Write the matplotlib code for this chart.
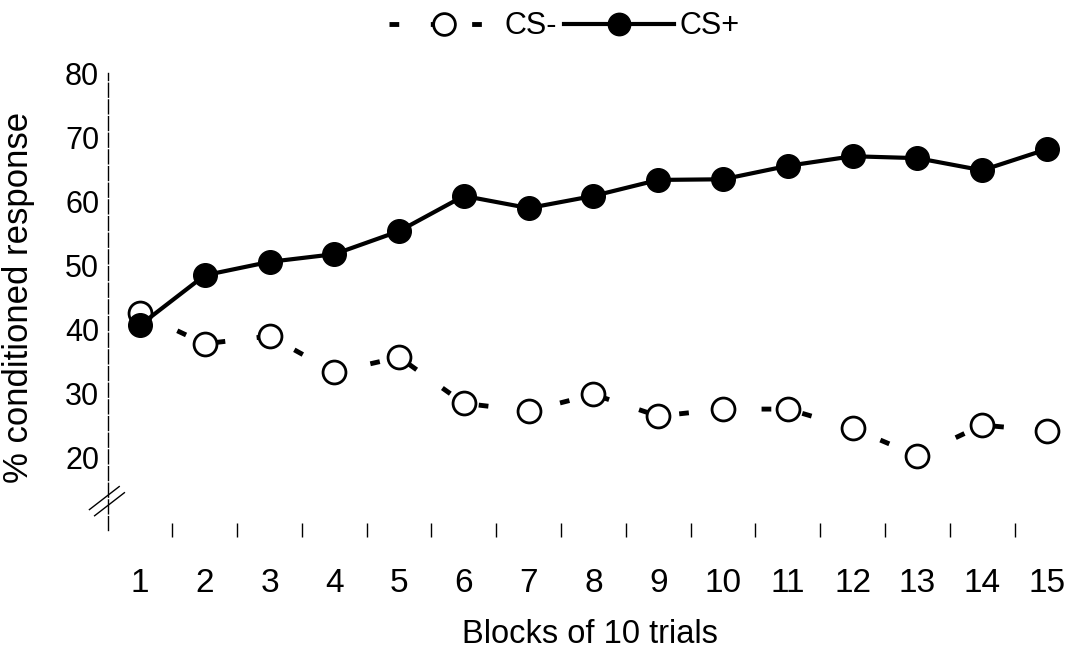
import matplotlib.pyplot as plt
import numpy as np

blocks = list(range(1, 16))
cs_minus = [42.5, 37.7, 38.9, 33.3, 35.6, 28.4, 27.2, 29.8, 26.4, 27.5, 27.5, 24.5, 20.2, 25.0, 24.1]
cs_plus = [40.6, 48.4, 50.5, 51.7, 55.3, 60.8, 58.9, 60.8, 63.3, 63.4, 65.5, 67.0, 66.7, 64.8, 68.1]
y_ticks = [20, 30, 40, 50, 60, 70, 80]

plt.rcParams['font.family'] = ['Liberation Sans', 'DejaVu Sans']

fig = plt.figure(figsize=(10.81, 6.52), dpi=100)
ax = fig.add_axes([0.0995, 0.187, 0.899, 0.701])

ax.plot(blocks, cs_minus, color='black', lw=3.5, linestyle=(0, (2, 6.5)),
        marker='o', ms=16.5, mfc='white', mec='black', mew=2, label='CS-', zorder=2)
ax.plot(blocks, cs_plus, color='black', lw=3, marker='o', ms=17,
        mfc='black', mec='black', label='CS+', zorder=3)

ax.set_xlim(0.5, 15.5)
ax.set_ylim(8.6, 80)

for side in ['top', 'right', 'bottom']:
    ax.spines[side].set_visible(False)
ax.spines['left'].set_linestyle((0, (10, 2)))
ax.spines['left'].set_linewidth(1)

ax.set_yticks(y_ticks)
ax.tick_params(axis='y', length=0, pad=6, labelsize=22)
ax.set_xticks(blocks)
ax.set_xticks(np.arange(1.5, 15, 1), minor=True)
ax.tick_params(axis='x', which='major', length=0, pad=27, labelsize=24)
ax.tick_params(axis='x', which='minor', length=10, width=1, direction='inout')

# axis break marks
for dx in [0, 0.08]:
    ax.plot([0.22 + dx, 0.68 + dx], [11.8 - dx * 12, 15.4 - dx * 12], color='black',
            lw=1, clip_on=False)

ax.set_ylabel('% conditioned response', fontsize=25)
ax.yaxis.set_label_coords(-0.075, 0.51)
ax.set_xlabel('Blocks of 10 trials', fontsize=23.5)
ax.xaxis.set_label_coords(0.496, -0.195)

ax.legend(loc='upper center', bbox_to_anchor=(0.522, 1.025), bbox_transform=fig.transFigure,
          ncol=2, frameon=False, fontsize=22, handlelength=3.6, markerscale=0.95,
          columnspacing=0.2, handletextpad=0.2)

fig.savefig('out.png', dpi=100)
